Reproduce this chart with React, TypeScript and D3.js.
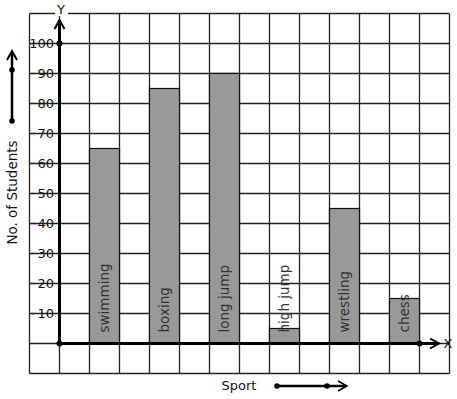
import React from "react";
import * as d3 from "d3";

const categories = ["swimming", "boxing", "long jump", "high jump", "wrestling", "chess"];
const values = [65, 85, 90, 5, 45, 15];
const yTicks = [10, 20, 30, 40, 50, 60, 70, 80, 90, 100];
const barColumns = [2, 4, 6, 8, 10, 12];

export default function App() {
  const W = 457, H = 399;
  const gx0 = 29.5, gy0 = 13.5, cell = 30, nCols = 14, nRows = 12;
  const originX = gx0 + cell; // 59.5
  const yScale = d3.scaleLinear().domain([0, 100]).range([343.5, 43.5]);
  const xCol = d3.scaleLinear().domain([0, nCols]).range([gx0, gx0 + nCols * cell]);
  const font = "DejaVu Sans, sans-serif";

  const vLines = d3.range(nCols + 1).map((i) => xCol(i));
  const hLines = d3.range(nRows + 1).map((j) => gy0 + j * cell);

  const chevronUp = (cx: number, cy: number) => `M${cx - 5},${cy + 9} L${cx},${cy} L${cx + 5},${cy + 9}`;
  const chevronRight = (cx: number, cy: number) => `M${cx - 9},${cy - 5} L${cx},${cy} L${cx - 9},${cy + 5}`;

  return (
    <svg width={W} height={H} style={{ position: "absolute", left: 0, top: 0, background: "#fff" }}>
      <rect x={0} y={0} width={W} height={H} fill="#fff" />
      {/* grid */}
      <g stroke="#222" strokeWidth={1.3}>
        {vLines.map((x, i) => (
          <line key={"v" + i} x1={x} x2={x} y1={gy0} y2={gy0 + nRows * cell} />
        ))}
        {hLines.map((yy, i) => (
          <line key={"h" + i} x1={gx0} x2={gx0 + nCols * cell} y1={yy} y2={yy} />
        ))}
      </g>
      {/* bars */}
      {categories.map((c, i) => {
        const x0 = xCol(barColumns[i]);
        const x1 = xCol(barColumns[i] + 1);
        const top = yScale(values[i]);
        const base = yScale(0);
        const cx = (x0 + x1) / 2;
        return (
          <g key={c}>
            <rect x={x0} y={top} width={x1 - x0} height={base - top} fill="#999" stroke="#111" strokeWidth={1.2} />
            <text
              transform={`translate(${cx + 4.5},${base - 11}) rotate(-90)`}
              fontFamily={font}
              fontSize={13.5}
              fill="#333"
            >
              {c}
            </text>
          </g>
        );
      })}
      {/* Y tick labels */}
      {yTicks.map((t) => (
        <g key={t}>
          <line x1={30} x2={35} y1={yScale(t)} y2={yScale(t)} stroke="#222" strokeWidth={1.2} />
          <text x={54} y={yScale(t) + 4.5} textAnchor="end" fontFamily={font} fontSize={13} fill="#111">
            {t}
          </text>
        </g>
      ))}
      {/* Y axis */}
      <line x1={originX} x2={originX} y1={yScale(0)} y2={20} stroke="#000" strokeWidth={3} />
      <path d={chevronUp(originX, 20)} fill="none" stroke="#000" strokeWidth={2} />
      <circle cx={originX} cy={yScale(100)} r={3} fill="#000" />
      <rect x={55} y={1} width={13} height={15} fill="#fff" />
      <text x={61} y={14} textAnchor="middle" fontFamily={font} fontSize={13} fill="#111">Y</text>
      {/* X axis */}
      <line x1={originX} x2={439} y1={yScale(0)} y2={yScale(0)} stroke="#000" strokeWidth={3} />
      <path d={chevronRight(439, yScale(0))} fill="none" stroke="#000" strokeWidth={2} />
      <circle cx={originX} cy={yScale(0)} r={3} fill="#000" />
      <circle cx={xCol(13)} cy={yScale(0)} r={3} fill="#000" />
      <text x={448} y={yScale(0) + 4.5} textAnchor="middle" fontFamily={font} fontSize={13} fill="#111">X</text>
      {/* Y axis title */}
      <text transform={`translate(17,192.5) rotate(-90)`} textAnchor="middle" fontFamily={font} fontSize={13.5} fill="#111">
        No. of Students
      </text>
      <line x1={12} x2={12} y1={121} y2={52} stroke="#000" strokeWidth={2.5} />
      <path d={chevronUp(12, 51)} fill="none" stroke="#000" strokeWidth={2} />
      <circle cx={12} cy={121} r={2.8} fill="#000" />
      <circle cx={12} cy={70} r={2.8} fill="#000" />
      {/* X axis title */}
      <text x={239} y={390} textAnchor="middle" fontFamily={font} fontSize={13} fill="#111">Sport</text>
      <line x1={277} x2={346} y1={386} y2={386} stroke="#000" strokeWidth={2.5} />
      <path d={chevronRight(347, 386)} fill="none" stroke="#000" strokeWidth={1.5} />
      <circle cx={277} cy={386} r={2.8} fill="#000" />
      <circle cx={327} cy={386} r={2.8} fill="#000" />
    </svg>
  );
}
